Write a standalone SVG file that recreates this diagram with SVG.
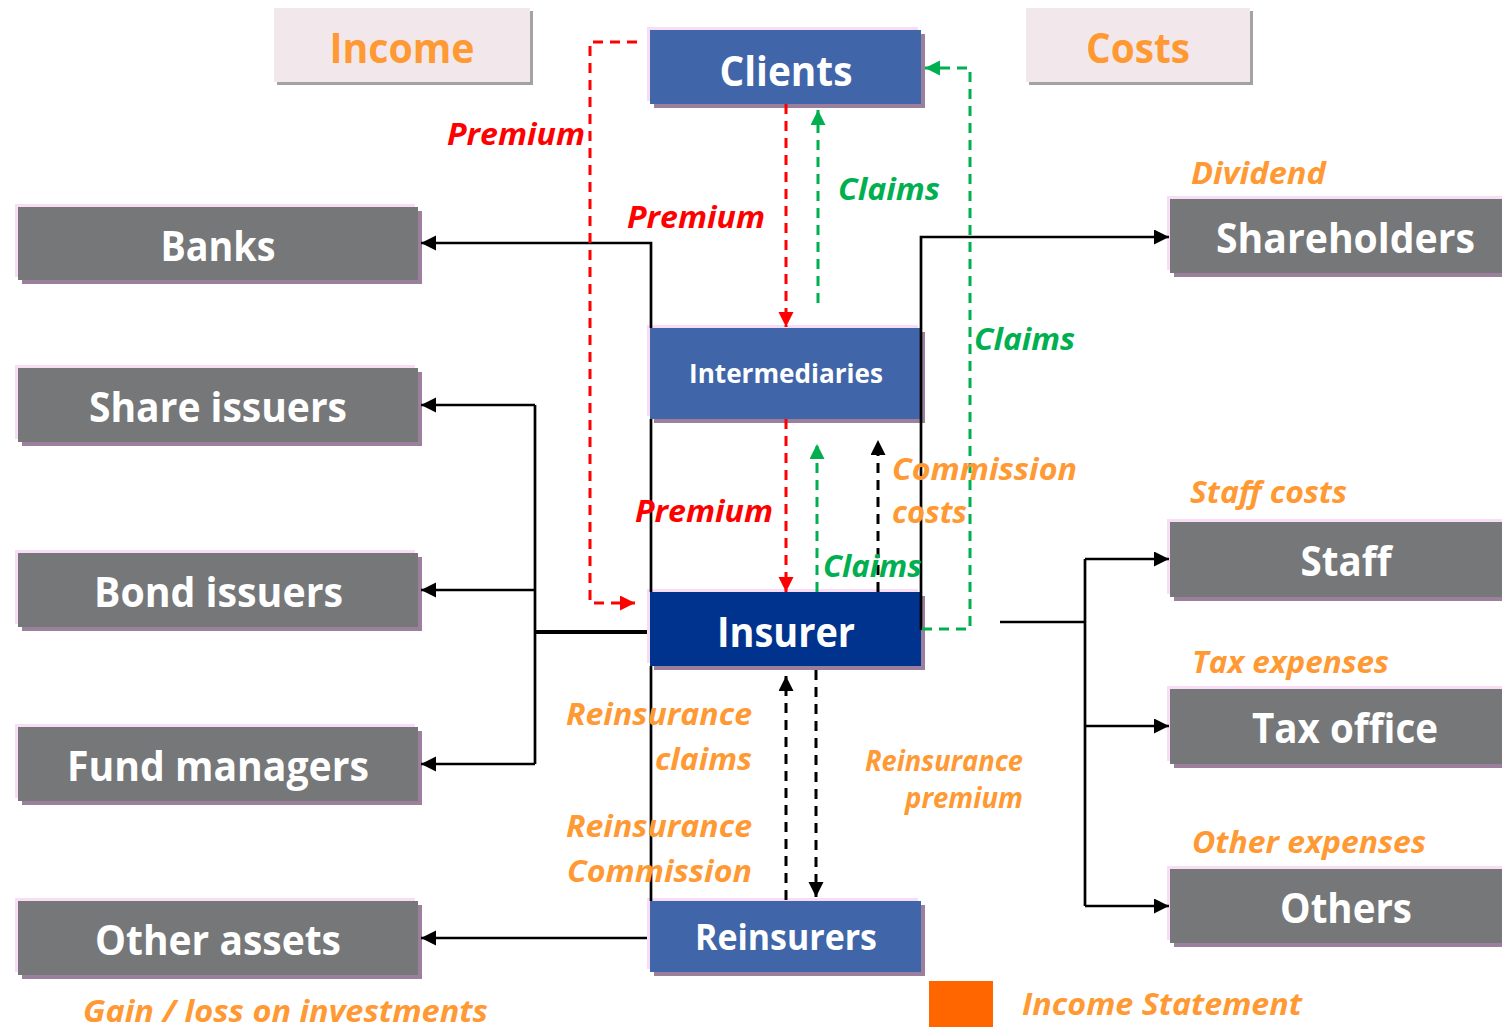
<svg xmlns="http://www.w3.org/2000/svg" width="1502" height="1028" viewBox="0 0 1502 1028">
  <defs>
    <style>
      .t { font-family: "Open Sans", "Noto Sans", "DejaVu Sans", sans-serif; font-weight: bold; }
      .node { fill: #ffffff; font-size: 42px; text-anchor: middle; }
      .head { fill: #ff9933; font-size: 42px; text-anchor: middle; }
      .lbl { font-style: italic; font-size: 31px; }
      .red { fill: #ff0000; }
      .grn { fill: #00b050; }
      .org { fill: #ff9933; }
      .pink { fill: #f9ddf6; }
      .shadow { fill: #9c7f9c; }
      .blue { fill: #4066a9; }
      .navy { fill: #00338e; }
      .gray { fill: #767779; }
      .solid { fill: none; stroke: #000; stroke-width: 2.7; }
      .dash { fill: none; stroke-width: 3; stroke-dasharray: 10 7; }
    </style>
    <marker id="ahB" markerUnits="userSpaceOnUse" markerWidth="16" markerHeight="16" refX="15" refY="7.5" orient="auto">
      <path d="M0,0 L15,7.5 L0,15 z" fill="#000"/>
    </marker>
    <marker id="ahR" markerUnits="userSpaceOnUse" markerWidth="16" markerHeight="16" refX="15" refY="7.5" orient="auto">
      <path d="M0,0 L15,7.5 L0,15 z" fill="#ff0000"/>
    </marker>
    <marker id="ahG" markerUnits="userSpaceOnUse" markerWidth="16" markerHeight="16" refX="15" refY="7.5" orient="auto">
      <path d="M0,0 L15,7.5 L0,15 z" fill="#00b050"/>
    </marker>
  </defs>

  <rect width="1502" height="1028" fill="#ffffff"/>

  <!-- column headings -->
  <g id="income-head">
    <rect x="277" y="11" width="256" height="74" fill="#a3a3a3"/>
    <rect x="274" y="8" width="256" height="74" fill="#f2e8eb"/>
    <text class="t head" x="402" y="63" textLength="145" lengthAdjust="spacingAndGlyphs">Income</text>
  </g>
  <g id="costs-head">
    <rect x="1029" y="11" width="224" height="74" fill="#a3a3a3"/>
    <rect x="1026" y="8" width="224" height="74" fill="#f2e8eb"/>
    <text class="t head" x="1138" y="63" textLength="104" lengthAdjust="spacingAndGlyphs">Costs</text>
  </g>

  <!-- central chain -->
  <g id="clients">
    <rect class="shadow" x="654" y="34" width="271" height="74"/>
    <rect class="pink" x="647" y="27" width="271" height="74"/>
    <rect class="blue" x="650" y="30" width="271" height="74"/>
    <text class="t node" x="786" y="86" textLength="133" lengthAdjust="spacingAndGlyphs">Clients</text>
  </g>
  <g id="intermediaries">
    <rect class="shadow" x="654" y="332" width="271" height="91"/>
    <rect class="pink" x="647" y="325" width="271" height="91"/>
    <rect class="blue" x="650" y="328" width="271" height="91"/>
    <text class="t node" x="786" y="383" style="font-size:27px" textLength="194" lengthAdjust="spacingAndGlyphs">Intermediaries</text>
  </g>
  <g id="insurer">
    <rect class="shadow" x="654" y="596" width="271" height="74"/>
    <rect class="pink" x="647" y="589" width="271" height="74"/>
    <rect class="navy" x="650" y="592" width="271" height="74"/>
    <text class="t node" x="786" y="647" textLength="138" lengthAdjust="spacingAndGlyphs">Insurer</text>
  </g>
  <g id="reinsurers">
    <rect class="shadow" x="654" y="905" width="271" height="71"/>
    <rect class="pink" x="647" y="898" width="271" height="71"/>
    <rect class="blue" x="650" y="901" width="271" height="71"/>
    <text class="t node" x="786" y="950" style="font-size:36px" textLength="182" lengthAdjust="spacingAndGlyphs">Reinsurers</text>
  </g>

  <!-- investment targets (left) -->
  <g id="banks">
    <rect class="shadow" x="22" y="211" width="400" height="73"/>
    <rect class="pink" x="15" y="204" width="400" height="73"/>
    <rect class="gray" x="18" y="207" width="400" height="73"/>
    <text class="t node" x="218" y="261" textLength="115" lengthAdjust="spacingAndGlyphs">Banks</text>
  </g>
  <g id="share-issuers">
    <rect class="shadow" x="22" y="372" width="400" height="74"/>
    <rect class="pink" x="15" y="365" width="400" height="74"/>
    <rect class="gray" x="18" y="368" width="400" height="74"/>
    <text class="t node" x="218" y="422" textLength="258" lengthAdjust="spacingAndGlyphs">Share issuers</text>
  </g>
  <g id="bond-issuers">
    <rect class="shadow" x="22" y="557" width="400" height="74"/>
    <rect class="pink" x="15" y="550" width="400" height="74"/>
    <rect class="gray" x="18" y="553" width="400" height="74"/>
    <text class="t node" x="218.5" y="607" textLength="249" lengthAdjust="spacingAndGlyphs">Bond issuers</text>
  </g>
  <g id="fund-managers">
    <rect class="shadow" x="22" y="731" width="400" height="74"/>
    <rect class="pink" x="15" y="724" width="400" height="74"/>
    <rect class="gray" x="18" y="727" width="400" height="74"/>
    <text class="t node" x="218" y="781" textLength="302" lengthAdjust="spacingAndGlyphs">Fund managers</text>
  </g>
  <g id="other-assets">
    <rect class="shadow" x="22" y="905" width="400" height="74"/>
    <rect class="pink" x="15" y="898" width="400" height="74"/>
    <rect class="gray" x="18" y="901" width="400" height="74"/>
    <text class="t node" x="218" y="955" textLength="246" lengthAdjust="spacingAndGlyphs">Other assets</text>
  </g>

  <!-- cost recipients (right) -->
  <g id="shareholders">
    <rect class="shadow" x="1174" y="203" width="352" height="74"/>
    <rect class="pink" x="1167" y="196" width="352" height="74"/>
    <rect class="gray" x="1170" y="199" width="352" height="74"/>
    <text class="t node" x="1345.5" y="253" textLength="259" lengthAdjust="spacingAndGlyphs">Shareholders</text>
  </g>
  <g id="staff">
    <rect class="shadow" x="1174" y="526" width="352" height="75"/>
    <rect class="pink" x="1167" y="519" width="352" height="75"/>
    <rect class="gray" x="1170" y="522" width="352" height="75"/>
    <text class="t node" x="1346" y="576" textLength="91" lengthAdjust="spacingAndGlyphs">Staff</text>
  </g>
  <g id="tax-office">
    <rect class="shadow" x="1174" y="693" width="352" height="75"/>
    <rect class="pink" x="1167" y="686" width="352" height="75"/>
    <rect class="gray" x="1170" y="689" width="352" height="75"/>
    <text class="t node" x="1345" y="743" textLength="186" lengthAdjust="spacingAndGlyphs">Tax office</text>
  </g>
  <g id="others">
    <rect class="shadow" x="1174" y="873" width="352" height="74"/>
    <rect class="pink" x="1167" y="866" width="352" height="74"/>
    <rect class="gray" x="1170" y="869" width="352" height="74"/>
    <text class="t node" x="1346" y="923" textLength="132" lengthAdjust="spacingAndGlyphs">Others</text>
  </g>

  <!-- legend -->
  <g id="legend">
    <rect x="929" y="981" width="64" height="46" fill="#ff6600"/>
    <text class="t lbl org" x="1022" y="1015" textLength="280" lengthAdjust="spacingAndGlyphs">Income Statement</text>
  </g>

  <!-- connectors -->
  <g id="connectors">
    <!-- investments from the insurer side -->
    <path class="solid" d="M651,328 V243 H421" marker-end="url(#ahB)"/>
    <path class="solid" d="M651,419 V592"/>
    <path class="solid" d="M651,666 V901"/>
    <path class="solid" d="M647,632 H535" style="stroke-width:4"/>
    <path class="solid" d="M535,405 V764"/>
    <path class="solid" d="M535,405 H421" marker-end="url(#ahB)"/>
    <path class="solid" d="M535,590 H421" marker-end="url(#ahB)"/>
    <path class="solid" d="M535,764 H421" marker-end="url(#ahB)"/>
    <path class="solid" d="M647,938 H421" marker-end="url(#ahB)"/>

    <!-- costs -->
    <path class="solid" d="M921,630 V237 H1169" marker-end="url(#ahB)"/>
    <path class="solid" d="M1000,622 H1085"/>
    <path class="solid" d="M1085,559 V906"/>
    <path class="solid" d="M1085,559 H1169" marker-end="url(#ahB)"/>
    <path class="solid" d="M1085,726 H1169" marker-end="url(#ahB)"/>
    <path class="solid" d="M1085,906 H1169" marker-end="url(#ahB)"/>

    <!-- premium flows -->
    <path class="dash" stroke="#ff0000" d="M637,42 H590 V603 H635" marker-end="url(#ahR)"/>
    <path class="dash" stroke="#ff0000" d="M786,104 V327" marker-end="url(#ahR)"/>
    <path class="dash" stroke="#ff0000" d="M786,419 V592" marker-end="url(#ahR)"/>

    <!-- claim flows -->
    <path class="dash" stroke="#00b050" d="M818,303 V110" marker-end="url(#ahG)"/>
    <path class="dash" stroke="#00b050" d="M817,592 V444" marker-end="url(#ahG)"/>
    <path class="dash" stroke="#00b050" d="M922,629 H970 V68 H925" marker-end="url(#ahG)"/>

    <!-- commission and reinsurance flows -->
    <path class="dash" stroke="#000" d="M878,592 V440" marker-end="url(#ahB)"/>
    <path class="dash" stroke="#000" d="M786,900 V676" marker-end="url(#ahB)"/>
    <path class="dash" stroke="#000" d="M816,670 V897" marker-end="url(#ahB)"/>
  </g>

  <!-- flow labels -->
  <g id="labels" class="t lbl">
    <text class="red" x="447" y="145" textLength="138" lengthAdjust="spacingAndGlyphs">Premium</text>
    <text class="red" x="627" y="228" textLength="138" lengthAdjust="spacingAndGlyphs">Premium</text>
    <text class="red" x="635" y="522" textLength="138" lengthAdjust="spacingAndGlyphs">Premium</text>
    <text class="grn" x="838" y="200" textLength="102" lengthAdjust="spacingAndGlyphs">Claims</text>
    <text class="grn" x="974" y="350" textLength="101" lengthAdjust="spacingAndGlyphs">Claims</text>
    <text class="grn" x="823" y="577" textLength="99" lengthAdjust="spacingAndGlyphs">Claims</text>
    <text class="org" x="892" y="480" textLength="185" lengthAdjust="spacingAndGlyphs">Commission</text>
    <text class="org" x="892" y="523" textLength="75" lengthAdjust="spacingAndGlyphs">costs</text>
    <text class="org" x="566" y="725" textLength="186" lengthAdjust="spacingAndGlyphs">Reinsurance</text>
    <text class="org" x="655" y="770" textLength="97" lengthAdjust="spacingAndGlyphs">claims</text>
    <text class="org" x="566" y="837" textLength="186" lengthAdjust="spacingAndGlyphs">Reinsurance</text>
    <text class="org" x="567" y="882" textLength="185" lengthAdjust="spacingAndGlyphs">Commission</text>
    <text class="org" x="865" y="771" style="font-size:28px" textLength="158" lengthAdjust="spacingAndGlyphs">Reinsurance</text>
    <text class="org" x="905" y="808" style="font-size:28px" textLength="118" lengthAdjust="spacingAndGlyphs">premium</text>
    <text class="org" x="1191" y="184" textLength="135" lengthAdjust="spacingAndGlyphs">Dividend</text>
    <text class="org" x="1190" y="503" textLength="157" lengthAdjust="spacingAndGlyphs">Staff costs</text>
    <text class="org" x="1192" y="673" textLength="197" lengthAdjust="spacingAndGlyphs">Tax expenses</text>
    <text class="org" x="1192" y="853" textLength="234" lengthAdjust="spacingAndGlyphs">Other expenses</text>
    <text class="org" x="83" y="1022" textLength="405" lengthAdjust="spacingAndGlyphs">Gain / loss on investments</text>
  </g>
</svg>
